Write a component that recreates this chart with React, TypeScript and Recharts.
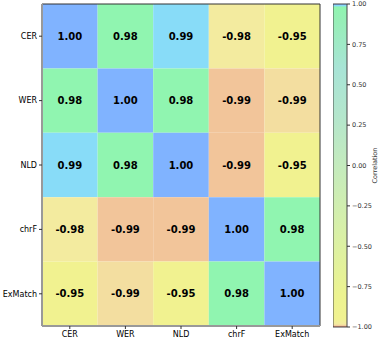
import { ReferenceArea, Scatter, ScatterChart, XAxis, YAxis } from 'recharts';

const metrics = ['CER', 'WER', 'NLD', 'chrF', 'ExMatch'];

// correlation matrix, row by row
const rowCER = [1.0, 0.98, 0.99, -0.98, -0.95];
const rowWER = [0.98, 1.0, 0.98, -0.993, -0.987];
const rowNLD = [0.99, 0.98, 1.0, -0.993, -0.95];
const rowChrF = [-0.98, -0.993, -0.993, 1.0, 0.98];
const rowExMatch = [-0.95, -0.987, -0.95, 0.98, 1.0];
const matrix = [rowCER, rowWER, rowNLD, rowChrF, rowExMatch];

const barTicks = [1, 0.75, 0.5, 0.25, 0, -0.25, -0.5, -0.75, -1];
const barRange = [{ x: 0, y: -1 }, { x: 1, y: 1 }];

// colormap stops (value -> colour)
const cmap: [number, string][] = [
  [1.0, '#80b3ff'],
  [0.99, '#88dcf8'],
  [0.98, '#90f5b0'],
  [0.9, '#96efb6'],
  [0.6, '#a8e4d6'],
  [0.3, '#b4e6cc'],
  [0.0, '#c4ebbd'],
  [-0.4, '#d8f0a8'],
  [-0.8, '#ecf390'],
  [-0.95, '#f1f290'],
  [-0.98, '#f3eb9f'],
  [-0.987, '#f3dea0'],
  [-0.993, '#f2c59a'],
  [-1.0, '#e07060'],
];

const hex = (c: string) => [1, 3, 5].map((i) => parseInt(c.slice(i, i + 2), 16));
const colorOf = (v: number) => {
  for (let i = 0; i < cmap.length - 1; i++) {
    const [v0, c0] = cmap[i];
    const [v1, c1] = cmap[i + 1];
    if (v <= v0 && v >= v1) {
      const t = v0 === v1 ? 0 : (v0 - v) / (v0 - v1);
      const a = hex(c0);
      const b = hex(c1);
      const m = a.map((x, k) => Math.round(x + (b[k] - x) * t));
      return `rgb(${m.join(',')})`;
    }
  }
  return cmap[cmap.length - 1][1];
};

const cells = matrix.flatMap((row, r) => row.map((v, c) => ({ x: c + 0.5, y: r + 0.5, r, c, v })));
const centers = [0.5, 1.5, 2.5, 3.5, 4.5];
const nameAt = (t: number) => metrics[Math.floor(t)];

const App = () => (
  <div style={{ position: 'absolute', left: 0, top: 0, width: 381, height: 344, fontFamily: '"DejaVu Sans", sans-serif', background: '#fff' }}>
    <div style={{ position: 'absolute', left: 0, top: 0 }}>
      <ScatterChart width={330} height={344} margin={{ top: 4, right: 10, left: 0, bottom: 0 }}>
        <XAxis
          type="number"
          dataKey="x"
          domain={[0, 5]}
          ticks={centers}
          tickFormatter={nameAt}
          height={18}
          tick={{ fontSize: 8, fill: '#000' }}
          tickSize={3}
          tickLine={{ stroke: '#333' }}
          axisLine={{ stroke: '#999', strokeWidth: 2 }}
          allowDataOverflow
        />
        <YAxis
          type="number"
          dataKey="y"
          domain={[0, 5]}
          reversed
          ticks={centers}
          tickFormatter={nameAt}
          width={42}
          tick={{ fontSize: 8, fill: '#000' }}
          tickSize={3}
          tickLine={{ stroke: '#333' }}
          axisLine={{ stroke: '#999', strokeWidth: 2 }}
          allowDataOverflow
        />
        {cells.map((d) => (
          <ReferenceArea
            key={`${d.r}-${d.c}`}
            x1={d.c}
            x2={d.c + 1}
            y1={d.r}
            y2={d.r + 1}
            fill={colorOf(d.v)}
            fillOpacity={1}
            stroke="none"
            label={{ value: d.v.toFixed(2), position: 'center', fontSize: 10, fontWeight: 'bold', fill: '#000' }}
          />
        ))}
        <ReferenceArea x1={0} x2={5} y1={0} y2={5} fill="none" stroke="#333" strokeWidth={1} />
        <Scatter data={cells} fill="transparent" shape={() => <g />} isAnimationActive={false} />
      </ScatterChart>
    </div>
    <div style={{ position: 'absolute', left: 333, top: 0 }}>
      <ScatterChart width={48} height={344} margin={{ top: 4, right: 0, left: 0, bottom: 17 }}>
        <defs>
          <linearGradient id="cbar" x1="0" y1="0" x2="0" y2="1">
            {cmap.map(([v, c]) => (
              <stop key={v} offset={(1 - v) / 2} stopColor={c} />
            ))}
          </linearGradient>
        </defs>
        <XAxis type="number" dataKey="x" domain={[0, 1]} hide />
        <YAxis
          orientation="right"
          type="number"
          dataKey="y"
          domain={[-1, 1]}
          ticks={barTicks}
          tickFormatter={(v: number) => v.toFixed(2).replace('-', '\u2212')}
          width={34}
          tick={{ fontSize: 6.5, fill: '#333' }}
          tickSize={3}
          tickLine={{ stroke: '#333' }}
          axisLine={false}
          interval={0}
          label={{
            value: 'Correlation',
            content: ({ viewBox }: any) => {
              const tx = viewBox.x + viewBox.width - 4;
              const ty = viewBox.y + viewBox.height / 2;
              return (
                <text x={tx} y={ty} transform={`rotate(-90 ${tx} ${ty})`} textAnchor="middle" fontSize={6.5} fill="#333">
                  Correlation
                </text>
              );
            },
          }}
        />
        <ReferenceArea y1={-1} y2={1} x1={0} x2={1} fill="url(#cbar)" fillOpacity={1} stroke="#444" strokeWidth={1} />
        <Scatter data={barRange} fill="transparent" shape={() => <g />} isAnimationActive={false} />
      </ScatterChart>
    </div>
  </div>
);

export default App;
